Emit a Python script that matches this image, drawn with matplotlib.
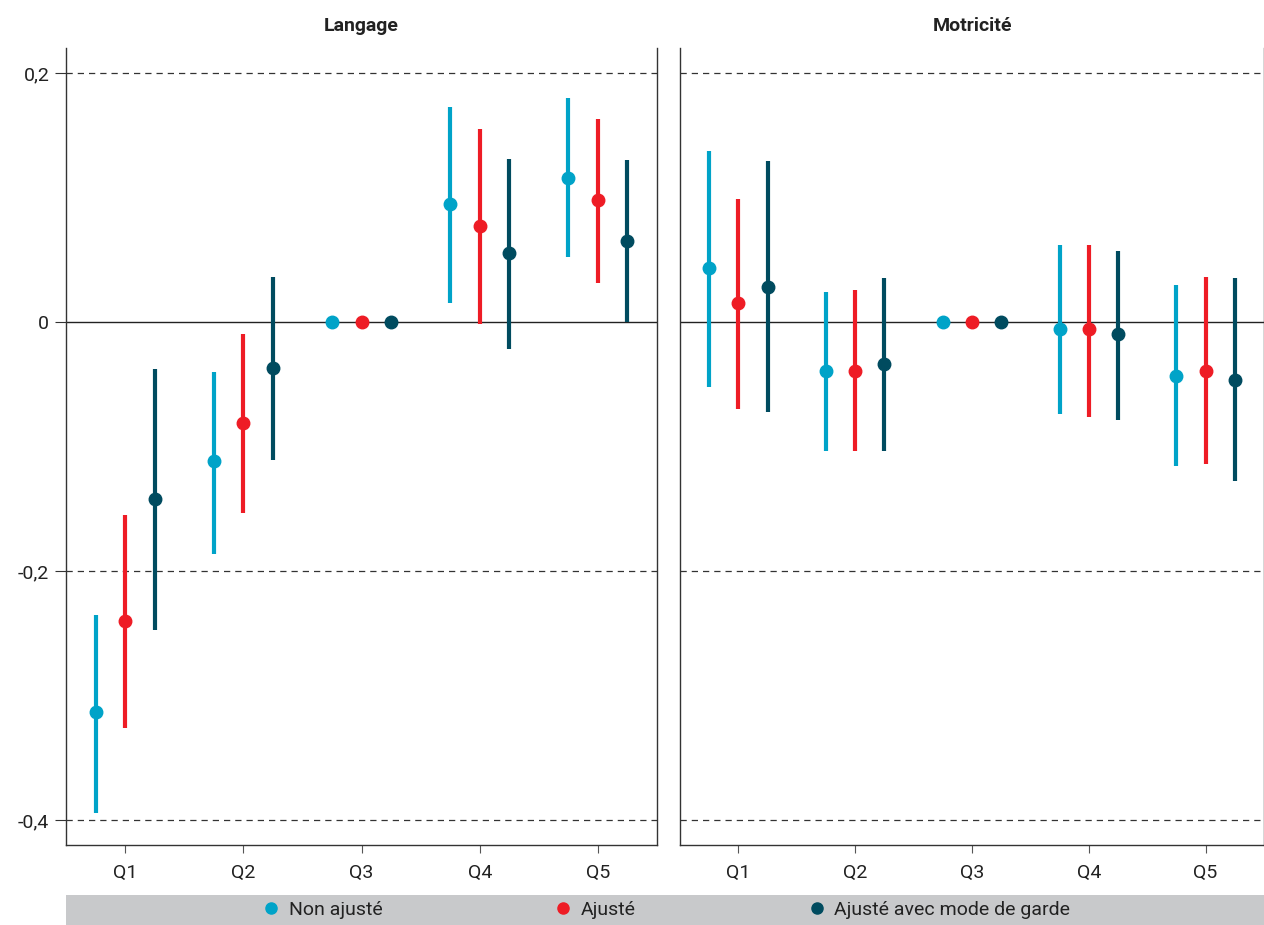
import matplotlib.pyplot as plt
import numpy as np

plt.rcParams['font.family'] = ['Liberation Sans Narrow', 'Roboto', 'DejaVu Sans']

quintiles = ['Q1', 'Q2', 'Q3', 'Q4', 'Q5']
series = ['Non ajusté', 'Ajusté', 'Ajusté avec mode de garde']
colors = ['#00A3C8', '#EE1C25', '#004B5F']

# Langage: estimate, low, high for each series
lang_est = [[-0.313, -0.112, 0.0, 0.095, 0.116],
            [-0.240, -0.081, 0.0, 0.077, 0.098],
            [-0.142, -0.037, 0.0, 0.055, 0.065]]
lang_low = [[-0.394, -0.186, 0.0, 0.015, 0.052],
            [-0.326, -0.153, 0.0, -0.002, 0.031],
            [-0.247, -0.111, 0.0, -0.022, 0.000]]
lang_high = [[-0.235, -0.040, 0.0, 0.173, 0.180],
             [-0.155, -0.010, 0.0, 0.155, 0.163],
             [-0.038, 0.036, 0.0, 0.131, 0.130]]

# Motricité
mot_est = [[0.043, -0.039, 0.0, -0.006, -0.043],
           [0.015, -0.039, 0.0, -0.006, -0.039],
           [0.028, -0.034, 0.0, -0.010, -0.047]]
mot_low = [[-0.052, -0.104, 0.0, -0.074, -0.116],
           [-0.070, -0.104, 0.0, -0.076, -0.114],
           [-0.072, -0.104, 0.0, -0.079, -0.128]]
mot_high = [[0.137, 0.024, 0.0, 0.062, 0.030],
            [0.099, 0.026, 0.0, 0.062, 0.036],
            [0.129, 0.035, 0.0, 0.057, 0.035]]

fig = plt.figure(figsize=(12.64, 9.25), dpi=100)
ax1 = fig.add_axes([66/1264, 1-845/925, 591/1264, 797/925])
ax2 = fig.add_axes([680/1264, 1-845/925, 584/1264, 797/925])
leg_ax = fig.add_axes([66/1264, 0, 1198/1264, 30/925])

offsets = [-0.25, 0.0, 0.25]
x = np.arange(1, 6)

for ax, title, est, low, high in [(ax1, 'Langage', lang_est, lang_low, lang_high),
                                  (ax2, 'Motricité', mot_est, mot_low, mot_high)]:
    for y in [0.2, -0.2, -0.4]:
        ax.axhline(y, color='#333333', lw=0.9, ls=(0, (5, 4)), zorder=1)
    ax.axhline(0, color='#222222', lw=1.0, zorder=1)
    for i in range(3):
        e = np.array(est[i])
        lo = np.array(low[i])
        hi = np.array(high[i])
        ax.errorbar(x + offsets[i], e, yerr=[e - lo, hi - e], fmt='o',
                    color=colors[i], ms=9, elinewidth=3, capsize=0,
                    label=series[i], zorder=3)
    ax.set_xlim(0.5, 5.5)
    ax.set_ylim(-0.42, 0.22)
    ax.set_xticks(x)
    ax.set_xticklabels(quintiles, fontsize=14)
    ax.set_yticks([0.2, 0, -0.2, -0.4])
    ax.set_yticklabels(['0,2', '0', '-0,2', '-0,4'], fontsize=14)
    ax.tick_params(axis='x', length=6, color='#555555', pad=8, labelcolor='#222222')
    ax.tick_params(axis='y', length=8, color='#333333', pad=4, labelcolor='#222222')
    ax.set_title(title, fontsize=14, fontweight='bold', pad=12, color='#222222')
    ax.spines['top'].set_visible(False)
    for s in ['left', 'bottom', 'right']:
        ax.spines[s].set_color('#333333')
        ax.spines[s].set_linewidth(1.0)

ax2.tick_params(axis='y', left=False, labelleft=False)

leg_ax.set_facecolor('#C8C9CB')
leg_ax.set_xticks([])
leg_ax.set_yticks([])
for s in leg_ax.spines.values():
    s.set_visible(False)
lh = [plt.Line2D([], [], marker='o', ls='', color=c, ms=8) for c in colors]
leg_ax.legend(lh, series, loc='center', ncol=3, frameon=False, fontsize=14,
              columnspacing=8.7, handletextpad=0.3, handlelength=1.2,
              borderaxespad=0, labelcolor='#222222')

fig.savefig('out.png', dpi=100)
